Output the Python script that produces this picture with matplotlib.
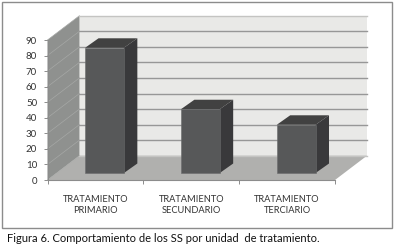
import matplotlib
matplotlib.use('Agg')
import matplotlib.pyplot as plt
from matplotlib.patches import Polygon, Rectangle

categories = ['TRATAMIENTO\nPRIMARIO', 'TRATAMIENTO\nSECUNDARIO', 'TRATAMIENTO\nTERCIARIO']
values = [80.5, 41, 31]
yticks = [0, 10, 20, 30, 40, 50, 60, 70, 80, 90]
caption = 'Figura 6. Comportamiento de los SS por unidad  de tratamiento.'

W, H = 396, 247
# front plane of the fake 3d box, in pixels
left, right, top, bottom = 47.5, 335.0, 40.0, 180.0

# depth of the box and of the bars, in data units
depth_x, depth_y = 0.333, 15.6
bar_dx, bar_dy = 0.14, 6.1
bar_shift, bar_base, bar_width = 0.095, 4.5, 0.405

plt.rcParams['font.family'] = ['Lato', 'DejaVu Sans']

fig = plt.figure(figsize=(W / 100, H / 100), dpi=100)
ax = fig.add_axes([left / W, 1 - bottom / H, (right - left) / W, (bottom - top) / H])
ax.set_xlim(0, 3)
ax.set_ylim(0, 90)
ax.patch.set_visible(False)


def poly(pts, color, z):
    ax.add_patch(Polygon(pts, closed=True, facecolor=color, edgecolor='none', zorder=z, clip_on=False))


# walls and floor
poly([(depth_x, depth_y), (3 + depth_x, depth_y), (3 + depth_x, 90 + depth_y), (depth_x, 90 + depth_y)], '#e9e9e7', 1)
poly([(0, 0), (depth_x, depth_y), (depth_x, 90 + depth_y), (0, 90)], '#8f918f', 1)
poly([(0, 0), (3, 0), (3 + depth_x, depth_y), (depth_x, depth_y)], '#b0b0ae', 1)

# grid on side and back wall, the outer lines are paler
for t in yticks:
    back = '#c4c4c2' if t in (0, 90) else '#979797'
    ax.plot([0, depth_x], [t, t + depth_y], color='#a6a8a6', lw=0.5, zorder=2, clip_on=False)
    ax.plot([depth_x, 3 + depth_x], [t + depth_y, t + depth_y], color=back, lw=1.0, zorder=2, clip_on=False)

# bars
positions = [i + 0.5 + bar_shift for i in range(len(values))]
ax.bar(positions, values, width=bar_width, bottom=bar_base, color='#575859',
       edgecolor='#6a6b6c', linewidth=0.4, zorder=4, clip_on=False)
for p, v in zip(positions, values):
    x0, x1 = p - bar_width / 2, p + bar_width / 2
    y0, y1 = bar_base, bar_base + v
    poly([(x0, y1), (x1, y1), (x1 + bar_dx, y1 + bar_dy), (x0 + bar_dx, y1 + bar_dy)], '#414141', 3)
    poly([(x1, y0), (x1 + bar_dx, y0 + bar_dy), (x1 + bar_dx, y1 + bar_dy), (x1, y1)], '#39393b', 3)

# axes
for s in ['top', 'right']:
    ax.spines[s].set_visible(False)
for s in ['left', 'bottom']:
    ax.spines[s].set_color('#8c8c8c')
    ax.spines[s].set_linewidth(0.8)
    ax.spines[s].set_zorder(5)
ax.set_yticks(yticks)
ax.tick_params(axis='y', length=3, width=0.7, color='#8c8c8c', labelsize=7, labelcolor='#333333', pad=4.5)
ax.set_xticks(range(4))
ax.set_xticklabels([])
ax.set_xticks([i + 0.5 for i in range(3)], labels=categories, minor=True)
ax.tick_params(axis='x', which='major', length=3, width=0.7, color='#8c8c8c')
ax.tick_params(axis='x', which='minor', length=0, labelsize=6.7, labelcolor='#333333', pad=10.5)
for lab in ax.get_xticklabels(minor=True):
    lab.set_linespacing(1.3)

# frame and caption
fig.add_artist(Rectangle((2 / W, 1 - 228 / H), 390 / W, 226 / H, transform=fig.transFigure,
                         fill=False, edgecolor='#8c8c8c', linewidth=1.0))
fig.text(7 / W, 1 - 238.5 / H, caption, fontsize=8, color='#111111', va='center', ha='left')

fig.savefig('out.png', dpi=100)
